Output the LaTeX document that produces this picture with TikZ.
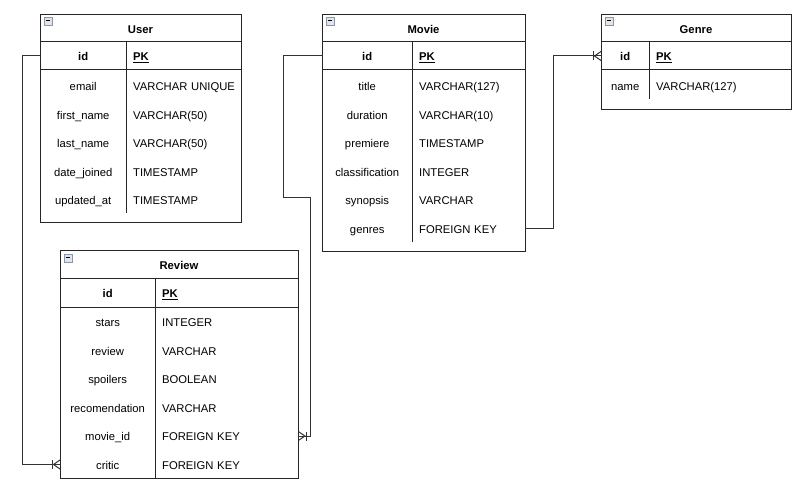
\documentclass[tikz,border=0pt]{standalone}
\usepackage{fontspec}
\setmainfont{Liberation Sans}
\definecolor{edge}{HTML}{262626}
\definecolor{wire}{HTML}{333333}
\definecolor{togglefill}{HTML}{E2E4EA}
\definecolor{toggleline}{HTML}{8A95AA}
\newcommand{\tblfont}{\fontsize{11.3}{13}\selectfont}
\begin{document}
\begin{tikzpicture}[x=1bp,y=-1bp,
  every node/.style={font=\tblfont, text height=11bp, text depth=1.5bp},
  frame/.style={draw=edge, line width=1bp, fill=white, inner sep=0, anchor=north west},
  rule/.style={draw=edge, line width=1bp},
  colsep/.style={draw=edge, line width=0.9bp},
  titletext/.style={font=\tblfont\bfseries, inner sep=0},
  namecell/.style={inner sep=0, anchor=west, minimum height=28bp, align=center},
  typecell/.style={inner sep=0, anchor=west, align=left, minimum height=28bp},
  conn/.style={draw=wire, line width=1bp},
  toggle/.style={draw=toggleline, fill=togglefill, line width=0.8bp, minimum size=8bp, inner sep=0, text height=, text depth=},
  crowfoot/.pic={
    \draw[conn] (-8,-4.5) -- (-8,4.5);
    \draw[conn] (0,-4.5) -- (-6.5,0) -- (0,4.5);
    \draw[conn] (-6.5,0) -- (0,0);
  }
]
\useasboundingbox (0,0) rectangle (801,493);
\fill[white] (0,0) rectangle (801,493);

% ---------------- User ----------------
\node[frame, minimum width=201bp, minimum height=208bp] (user) at (40,14) {};
\node[toggle] (user-toggle) at (48,21) {};
\draw[black, line width=1bp] (46,21) -- (50,21);
\node[titletext] (user-title) at (140.5,28.5) {User};
\draw[rule] (40,42) -- (241,42);
\draw[rule] (40,70) -- (241,70);
\draw[colsep] (126,42) -- (126,70);
\draw[colsep] (126,70) -- (126,213);
\node[namecell, minimum width=86bp, font=\tblfont\bfseries] (user-id) at (40,56) {id};
\node[typecell, text width=108bp, font=\tblfont\bfseries] (user-pk) at (133,56) {\underline{PK}};
\foreach \n/\t [count=\i] in {email/VARCHAR UNIQUE, first\_name/VARCHAR(50), last\_name/VARCHAR(50), date\_joined/TIMESTAMP, updated\_at/TIMESTAMP} {
  \node[namecell, minimum width=86bp] (user-\i) at (40,57.5+28.5*\i) {\n};
  \node[typecell, text width=108bp] (user-\i t) at (133,57.5+28.5*\i) {\t};
}

% ---------------- Movie ----------------
\node[frame, minimum width=203bp, minimum height=237bp] (movie) at (322,14) {};
\node[toggle] (movie-toggle) at (330,21) {};
\draw[black, line width=1bp] (328,21) -- (332,21);
\node[titletext] (movie-title) at (423.5,28.5) {Movie};
\draw[rule] (322,42) -- (525,42);
\draw[rule] (322,70) -- (525,70);
\draw[colsep] (412,42) -- (412,70);
\draw[colsep] (412,70) -- (412,242);
\node[namecell, minimum width=90bp, font=\tblfont\bfseries] (movie-id) at (322,56) {id};
\node[typecell, text width=106bp, font=\tblfont\bfseries] (movie-pk) at (419,56) {\underline{PK}};
\foreach \n/\t [count=\i] in {title/VARCHAR(127), duration/VARCHAR(10), premiere/TIMESTAMP, classification/INTEGER, synopsis/VARCHAR, genres/FOREIGN KEY} {
  \node[namecell, minimum width=90bp] (movie-\i) at (322,57.5+28.5*\i) {\n};
  \node[typecell, text width=106bp] (movie-\i t) at (419,57.5+28.5*\i) {\t};
}

% ---------------- Genre ----------------
\node[frame, minimum width=190bp, minimum height=95bp] (genre) at (601,14) {};
\node[toggle] (genre-toggle) at (609,21) {};
\draw[black, line width=1bp] (607,21) -- (611,21);
\node[titletext] (genre-title) at (696,28.5) {Genre};
\draw[rule] (601,42) -- (791,42);
\draw[rule] (601,70) -- (791,70);
\draw[colsep] (649,42) -- (649,70);
\draw[colsep] (649,70) -- (649,99);
\node[namecell, minimum width=48bp, font=\tblfont\bfseries] (genre-id) at (601,56) {id};
\node[typecell, text width=135bp, font=\tblfont\bfseries] (genre-pk) at (656,56) {\underline{PK}};
\node[namecell, minimum width=48bp] (genre-1) at (601,86) {name};
\node[typecell, text width=135bp] (genre-1t) at (656,86) {VARCHAR(127)};

% ---------------- Review ----------------
\node[frame, minimum width=238bp, minimum height=228bp] (review) at (60,250) {};
\node[toggle] (review-toggle) at (68,258) {};
\draw[black, line width=1bp] (66,258) -- (70,258);
\node[titletext] (review-title) at (179,265) {Review};
\draw[rule] (60,279) -- (298,279);
\draw[rule] (60,307) -- (298,307);
\draw[colsep] (155,279) -- (155,478);
\node[namecell, minimum width=95bp, font=\tblfont\bfseries] (review-id) at (60,293) {id};
\node[typecell, text width=136bp, font=\tblfont\bfseries] (review-pk) at (162,293) {\underline{PK}};
\foreach \n/\t [count=\i] in {stars/INTEGER, review/VARCHAR, spoilers/BOOLEAN, recomendation/VARCHAR, movie\_id/FOREIGN KEY, critic/FOREIGN KEY} {
  \node[namecell, minimum width=95bp] (review-\i) at (60,293.5+28.5*\i) {\n};
  \node[typecell, text width=136bp] (review-\i t) at (162,293.5+28.5*\i) {\t};
}

% ---------------- Relationships ----------------
% User.id -> Review.critic
\draw[conn] (user-id.west) -- ++(-18,0) |- (review-6.west);
\pic at (review-6.west) {crowfoot};
% Movie.id -> Review.movie_id
\draw[conn] (movie-id.west) -- ++(-39,0) -- ++(0,142) -- ++(27,0) |- (review-5t.east);
\pic[rotate=180] at (review-5t.east) {crowfoot};
% Movie.genres -> Genre.id
\draw[conn] (movie-6t.east) -- ++(28,0) |- (genre-id.west);
\pic at (genre-id.west) {crowfoot};
\end{tikzpicture}
\end{document}
